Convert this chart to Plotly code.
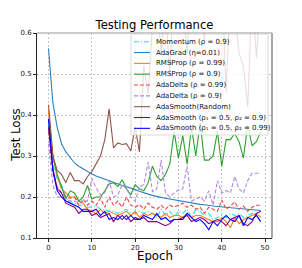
import plotly.graph_objects as go

epochs = list(range(50))

momentum = [0.375,0.28,0.245,0.23,0.20,0.185,0.185,0.18,0.18,0.175,0.175,0.178,0.17,0.17,0.165,0.165,0.16,0.165,0.17,0.16,
            0.16,0.165,0.16,0.165,0.16,0.15,0.17,0.155,0.165,0.15,0.165,0.16,0.17,0.15,0.17,0.165,0.155,0.16,0.145,0.15,
            0.155,0.15,0.16,0.155,0.16,0.15,0.155,0.16,0.155,0.14]
adagrad = [0.562,0.43,0.37,0.33,0.31,0.295,0.283,0.275,0.268,0.262,0.256,0.251,0.247,0.243,0.239,0.235,0.231,0.228,0.225,0.222,
           0.218,0.214,0.21,0.207,0.204,0.201,0.199,0.197,0.195,0.193,0.191,0.189,0.187,0.185,0.184,0.182,0.181,0.179,0.178,0.177,
           0.176,0.175,0.174,0.173,0.172,0.171,0.17,0.169,0.168,0.167]
rmsprop_99 = [0.41,0.3,0.25,0.22,0.21,0.2,0.2,0.19,0.185,0.17,0.165,0.16,0.17,0.16,0.165,0.16,0.155,0.16,0.165,0.155,
              0.165,0.15,0.16,0.155,0.16,0.155,0.15,0.16,0.15,0.155,0.155,0.15,0.16,0.15,0.155,0.155,0.15,0.145,0.14,0.14,
              0.15,0.14,0.125,0.15,0.135,0.145,0.15,0.155,0.16,0.15]
rmsprop_9 = [0.39,0.30,0.255,0.225,0.195,0.215,0.21,0.19,0.2,0.228,0.195,0.2,0.2,0.215,0.232,0.235,0.225,0.242,0.22,0.205,
             0.23,0.22,0.215,0.235,0.275,0.25,0.24,0.255,0.28,0.36,0.295,0.35,0.28,0.37,0.3,0.38,0.29,0.29,0.3,0.36,
             0.275,0.34,0.34,0.355,0.335,0.295,0.375,0.325,0.335,0.36]
adadelta_99 = [0.36,0.26,0.225,0.21,0.2,0.197,0.2,0.18,0.195,0.18,0.19,0.18,0.197,0.175,0.2,0.18,0.19,0.175,0.2,0.18,
               0.175,0.182,0.17,0.185,0.175,0.17,0.18,0.17,0.18,0.175,0.18,0.185,0.175,0.18,0.17,0.175,0.16,0.175,0.17,0.165,
               0.193,0.17,0.178,0.188,0.17,0.178,0.165,0.175,0.18,0.18]
adadelta_9 = [0.33,0.23,0.2,0.2,0.195,0.19,0.19,0.185,0.19,0.19,0.245,0.222,0.205,0.21,0.24,0.2,0.205,0.23,0.22,0.2,
              0.19,0.225,0.23,0.285,0.213,0.22,0.29,0.21,0.2,0.21,0.217,0.22,0.276,0.19,0.195,0.2,0.19,0.215,0.18,0.24,
              0.21,0.216,0.21,0.25,0.22,0.21,0.24,0.258,0.258,0.258]
adasmooth_random = [0.425,0.3,0.265,0.255,0.235,0.26,0.24,0.24,0.232,0.25,0.262,0.28,0.3,0.34,0.415,0.32,0.332,0.328,0.33,0.312,
                    0.37,0.31,0.52,0.45,0.62,0.7,0.55,0.66,0.5,0.72,0.6,0.68,0.55,0.75,0.63,0.7,0.58,0.8,0.66,0.62,
                    0.75,0.455,0.7,0.65,0.55,0.52,0.42,0.7,0.54,0.7]
adasmooth_9 = [0.37,0.27,0.22,0.21,0.185,0.18,0.175,0.16,0.17,0.17,0.155,0.16,0.15,0.155,0.16,0.14,0.155,0.145,0.155,0.14,
               0.15,0.145,0.15,0.14,0.14,0.14,0.135,0.13,0.135,0.145,0.145,0.15,0.155,0.14,0.145,0.15,0.145,0.135,0.14,0.145,
               0.14,0.13,0.145,0.15,0.155,0.135,0.13,0.14,0.16,0.165]
adasmooth_99 = [0.39,0.265,0.215,0.2,0.19,0.185,0.18,0.175,0.165,0.165,0.165,0.17,0.155,0.165,0.145,0.15,0.145,0.155,0.145,0.155,
                0.145,0.145,0.155,0.15,0.145,0.16,0.145,0.15,0.14,0.145,0.145,0.145,0.16,0.15,0.14,0.145,0.135,0.12,0.14,0.13,
                0.145,0.155,0.145,0.14,0.155,0.13,0.15,0.145,0.155,0.14]

labels = [
    "Momentum (ρ = 0.9)",
    "AdaGrad (η=0.01)",
    "RMSProp (ρ = 0.99)",
    "RMSProp (ρ = 0.9)",
    "AdaDelta (ρ = 0.99)",
    "AdaDelta (ρ = 0.9)",
    "AdaSmooth(Random)",
    "AdaSmooth (ρ₁ = 0.5, ρ₂ = 0.9)",
    "AdaSmooth (ρ₁ = 0.5, ρ₂ = 0.99)",
]
series = [momentum, adagrad, rmsprop_99, rmsprop_9, adadelta_99, adadelta_9,
          adasmooth_random, adasmooth_9, adasmooth_99]
colors = ["#22e0e8", "#2b80c0", "#ff7f0e", "#2ca02c", "#e8474a", "#b088dd",
          "#8c564b", "#800080", "#0000ff"]
dashes = ["5px,2px,1px,2px", "solid", "solid", "solid", "4px,2px", "4px,2px",
          "solid", "solid", "solid"]

# the page body has an 8px default margin; work in window pixels and shift
OFF = 8
W, H = 302 - OFF, 268 - OFF
L, T, R, B = 37 - OFF, 33 - OFF, 272 - OFF, 238 - OFF


def px2x(px):
    return (px - OFF - L) / (R - L)


def py2y(py):
    return (B - (py - OFF)) / (B - T)


fig = go.Figure()
for name, ys, c, d in zip(labels, series, colors, dashes):
    fig.add_trace(go.Scatter(x=epochs, y=ys, mode="lines", name=name, showlegend=False,
                             line=dict(color=c, width=1.1, dash=d)))

font = "DejaVu Sans"
shapes = []
annotations = []
# spines top/right (grey)
shapes.append(dict(type="line", xref="paper", yref="paper", x0=1, x1=1, y0=0, y1=1,
                   line=dict(color="#a8a8a8", width=2)))
shapes.append(dict(type="line", xref="paper", yref="paper", x0=0, x1=1, y0=1, y1=1,
                   line=dict(color="#b8b8b8", width=1.5)))
# legend box
shapes.append(dict(type="rect", xref="paper", yref="paper",
                   x0=px2x(131), x1=px2x(268), y0=py2y(135), y1=py2y(34),
                   fillcolor="rgba(255,255,255,0.8)", line=dict(color="#d0d0d0", width=0.8)))
for i, (name, c, d) in enumerate(zip(labels, colors, dashes)):
    py = 41.7 + i * 10.83
    shapes.append(dict(type="line", xref="paper", yref="paper",
                       x0=px2x(134), x1=px2x(150), y0=py2y(py), y1=py2y(py),
                       line=dict(color=c, width=1.1, dash=d)))
    annotations.append(dict(text=name, xref="paper", yref="paper", x=px2x(154), y=py2y(py),
                            xanchor="left", yanchor="middle", showarrow=False,
                            font=dict(family=font, size=7, color="#111")))

annotations.append(dict(text="Epoch", xref="paper", yref="paper", x=0.5, y=py2y(256),
                        xanchor="center", yanchor="middle", showarrow=False,
                        font=dict(family=font, size=11.7, color="#000")))
annotations.append(dict(text="Test Loss", xref="paper", yref="paper", x=px2x(15.7), y=py2y(135),
                        xanchor="center", yanchor="middle", showarrow=False, textangle=-90,
                        font=dict(family=font, size=11.7, color="#000")))

fig.update_layout(
    width=W, height=H,
    margin=dict(l=L, r=W - R, t=T, b=H - B, pad=0),
    paper_bgcolor="white", plot_bgcolor="white",
    title=dict(text="Testing Performance", x=0.5, xref="paper", xanchor="center",
               y=1 - (25 - OFF) / H, yanchor="middle", font=dict(family=font, size=11.6, color="#000")),
    font=dict(family=font),
    shapes=shapes, annotations=annotations,
    showlegend=False,
)
fig.update_xaxes(range=[-2.66, 51.6], tickvals=[0, 10, 20, 30, 40, 50],
                 showgrid=True, gridcolor="#c4c4c4", griddash="2px,2px", gridwidth=0.8,
                 zeroline=False, showline=True, linecolor="#222", linewidth=1,
                 ticks="outside", ticklen=3, tickcolor="#222", tickwidth=0.8,
                 tickfont=dict(family=font, size=7, color="#222"))
fig.update_yaxes(range=[0.1, 0.6], tickvals=[0.1, 0.2, 0.3, 0.4, 0.5, 0.6], tickformat=".1f",
                 showgrid=True, gridcolor="#c4c4c4", griddash="2px,2px", gridwidth=0.8,
                 zeroline=False, showline=True, linecolor="#222", linewidth=1,
                 ticks="outside", ticklen=3, tickcolor="#222", tickwidth=0.8,
                 tickfont=dict(family=font, size=7, color="#222"))

fig.write_html("out.html")
